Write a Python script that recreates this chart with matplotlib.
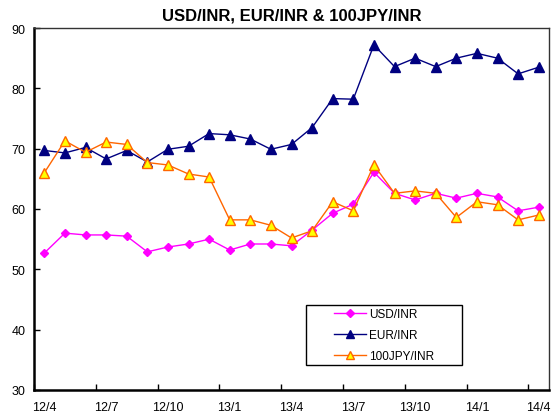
import matplotlib
matplotlib.use("Agg")
import matplotlib.pyplot as plt
from matplotlib.patches import Rectangle
import numpy as np

plt.rcParams['font.family'] = ['Liberation Sans', 'DejaVu Sans']

months = ["12/4", "12/5", "12/6", "12/7", "12/8", "12/9", "12/10", "12/11", "12/12",
          "13/1", "13/2", "13/3", "13/4", "13/5", "13/6", "13/7", "13/8", "13/9",
          "13/10", "13/11", "13/12", "14/1", "14/2", "14/3", "14/4"]
usd = [52.7, 56.0, 55.7, 55.7, 55.5, 52.9, 53.7, 54.2, 55.0, 53.2, 54.2, 54.2, 53.9,
       56.5, 59.3, 60.8, 66.1, 62.6, 61.5, 62.6, 61.8, 62.6, 62.0, 59.7, 60.3]
eur = [69.7, 69.3, 70.2, 68.3, 69.7, 67.8, 69.9, 70.4, 72.5, 72.3, 71.6, 69.9, 70.7,
       73.5, 78.3, 78.2, 87.2, 83.6, 85.0, 83.6, 85.0, 85.8, 85.0, 82.4, 83.5]
jpy = [66.0, 71.3, 69.4, 71.1, 70.7, 67.7, 67.3, 65.8, 65.3, 58.2, 58.2, 57.3, 55.2,
       56.4, 61.2, 59.7, 67.3, 62.6, 63.0, 62.6, 58.6, 61.2, 60.7, 58.2, 59.0]
series_names = ["USD/INR", "EUR/INR", "100JPY/INR"]
title = "USD/INR, EUR/INR & 100JPY/INR"

fig = plt.figure(figsize=(5.54, 4.14), dpi=100)
ax = fig.add_axes([34/554, 1-391/414, 515/554, 362/414])

x = np.arange(len(months))
ax.plot(x, usd, color='#FF00FF', marker='D', markersize=4.5, lw=1, label=series_names[0])
ax.plot(x, eur, color='#000080', marker='^', markersize=6.5, lw=1, label=series_names[1])
ax.plot(x, jpy, color='#FF6600', marker='^', markersize=6.5, lw=1,
        markerfacecolor='#FFFF00', markeredgecolor='#FF6600', markeredgewidth=1, label=series_names[2])

ax.set_xlim(-0.5, len(months)-0.5)
ax.set_ylim(30, 90)
ax.set_yticks(np.arange(30, 91, 10))
ax.set_xticks(x[::3])
ax.set_xticklabels(months[::3])
ax.set_xticks(np.arange(-0.5, len(months), 3), minor=True)
ax.tick_params(axis='x', which='major', length=0, labelsize=9, pad=8)
ax.tick_params(axis='x', which='minor', direction='in', length=4, width=1)
ax.tick_params(axis='y', direction='in', length=4, width=1, labelsize=9, pad=6)

for s in ['left', 'bottom']:
    ax.spines[s].set_linewidth(1.8)
    ax.spines[s].set_color('black')
for s in ['top', 'right']:
    ax.spines[s].set_linewidth(1.0)
    ax.spines[s].set_color('#333333')

ax.set_title(title, fontsize=12, fontweight='bold', pad=6)

# legend box
bx0, by0, bw, bh = (306-34)/515, (391-366)/362, (462-306)/515, 60/362
ax.add_patch(Rectangle((bx0, by0), bw, bh, transform=ax.transAxes, fill=True,
                       facecolor='white', edgecolor='black', lw=1, zorder=5))
leg = ax.legend(loc='center', bbox_to_anchor=(bx0, by0, bw, bh), borderaxespad=0,
                fontsize=8.5, frameon=False, handlelength=2.7, handletextpad=0.3,
                borderpad=0, labelspacing=0.75, markerscale=0.85)
leg.set_zorder(6)

fig.savefig("out.png", dpi=100)
